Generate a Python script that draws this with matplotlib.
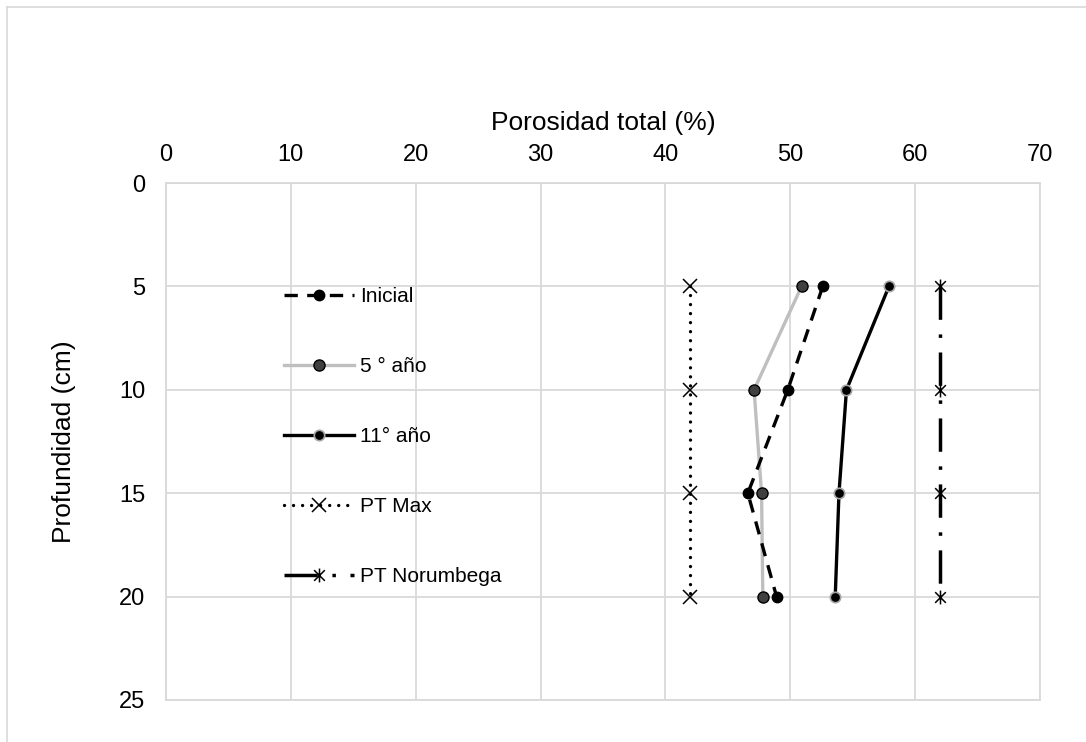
import numpy as np
import matplotlib
matplotlib.use("Agg")
import matplotlib.pyplot as plt
from matplotlib.path import Path
from matplotlib.lines import Line2D

plt.rcParams['font.family'] = ['Liberation Sans', 'DejaVu Sans']

# profundidad de muestreo (cm)
profundidad = [5, 10, 15, 20]

# porosidad total (%) por tratamiento
inicial = [52.6, 49.8, 46.6, 48.9]
anio5 = [50.9, 47.1, 47.7, 47.8]
anio11 = [57.9, 54.5, 53.9, 53.6]
pt_max = [42, 42, 42, 42]
pt_norumbega = [62, 62, 62, 62]

xticks = [0, 10, 20, 30, 40, 50, 60, 70]
yticks = [0, 5, 10, 15, 20, 25]

W, H = 1086, 742
fig = plt.figure(figsize=(W / 100, H / 100), dpi=100)
ax = fig.add_axes([166 / W, 1 - 700 / H, (1040 - 166) / W, (700 - 183) / H])

# marcador tipo asterisco (x con linea vertical)
ast = Path([(-1, -1), (1, 1), (-1, 1), (1, -1), (0, -1.3), (0, 1.3)],
           [Path.MOVETO, Path.LINETO, Path.MOVETO, Path.LINETO, Path.MOVETO, Path.LINETO])

ax.plot(inicial, profundidad, color='black', lw=2.4, linestyle=(0, (4, 2.8)),
        marker='o', ms=7.5, mfc='black', mec='black', label='Inicial', zorder=4)
ax.plot(anio5, profundidad, color='#BFBFBF', lw=2.4, marker='o', ms=8,
        mfc='#404040', mec='black', mew=1, label='5 ° año', zorder=3)
ax.plot(anio11, profundidad, color='black', lw=2.4, marker='o', ms=7.5,
        mfc='black', mec='#A6A6A6', mew=1.2, label='11° año', zorder=3)
ax.plot(pt_max, profundidad, color='black', lw=2.4, linestyle=(0, (0.01, 2.7)),
        dash_capstyle='round', marker='x', ms=9.5, mew=1.1, label='PT Max', zorder=3)
ax.plot(pt_norumbega, profundidad, color='black', lw=2.5, linestyle=(0, (9.6, 4.2, 1, 4.2)),
        marker=ast, ms=10, mew=1.1, label='PT Norumbega', zorder=3)

ax.set_xlim(0, 70)
ax.set_ylim(25, 0)
ax.set_xticks(xticks)
ax.set_yticks(yticks)
ax.xaxis.tick_top()
ax.xaxis.set_label_position('top')
ax.tick_params(axis='both', length=0, labelsize=17, labelcolor='black')
ax.tick_params(axis='x', pad=12)
ax.tick_params(axis='y', pad=15)
ax.grid(True, color='#D9D9D9', lw=1.3)
ax.set_axisbelow(True)
for s in ax.spines.values():
    s.set_color('#D9D9D9')
    s.set_linewidth(1.3)

ax.set_xlabel('Porosidad total (%)', fontsize=19, labelpad=10)
ax.set_ylabel('Profundidad (cm)', fontsize=19, labelpad=31)

leg = ax.legend(loc='upper left', bbox_to_anchor=(276 / W, 1 - 279 / H),
                bbox_transform=fig.transFigure, frameon=False, fontsize=15,
                handlelength=3.35, handletextpad=0.3, labelspacing=2.45,
                numpoints=1, borderaxespad=0)

# borde exterior del grafico
fig.add_artist(Line2D([7 / W, 7 / W], [0, 1 - 7 / H], color='#D9D9D9', lw=1.2,
                      transform=fig.transFigure))
fig.add_artist(Line2D([7 / W, 1], [1 - 7 / H, 1 - 7 / H], color='#D9D9D9', lw=1.2,
                      transform=fig.transFigure))

fig.savefig('out.png', dpi=100, facecolor='white')
